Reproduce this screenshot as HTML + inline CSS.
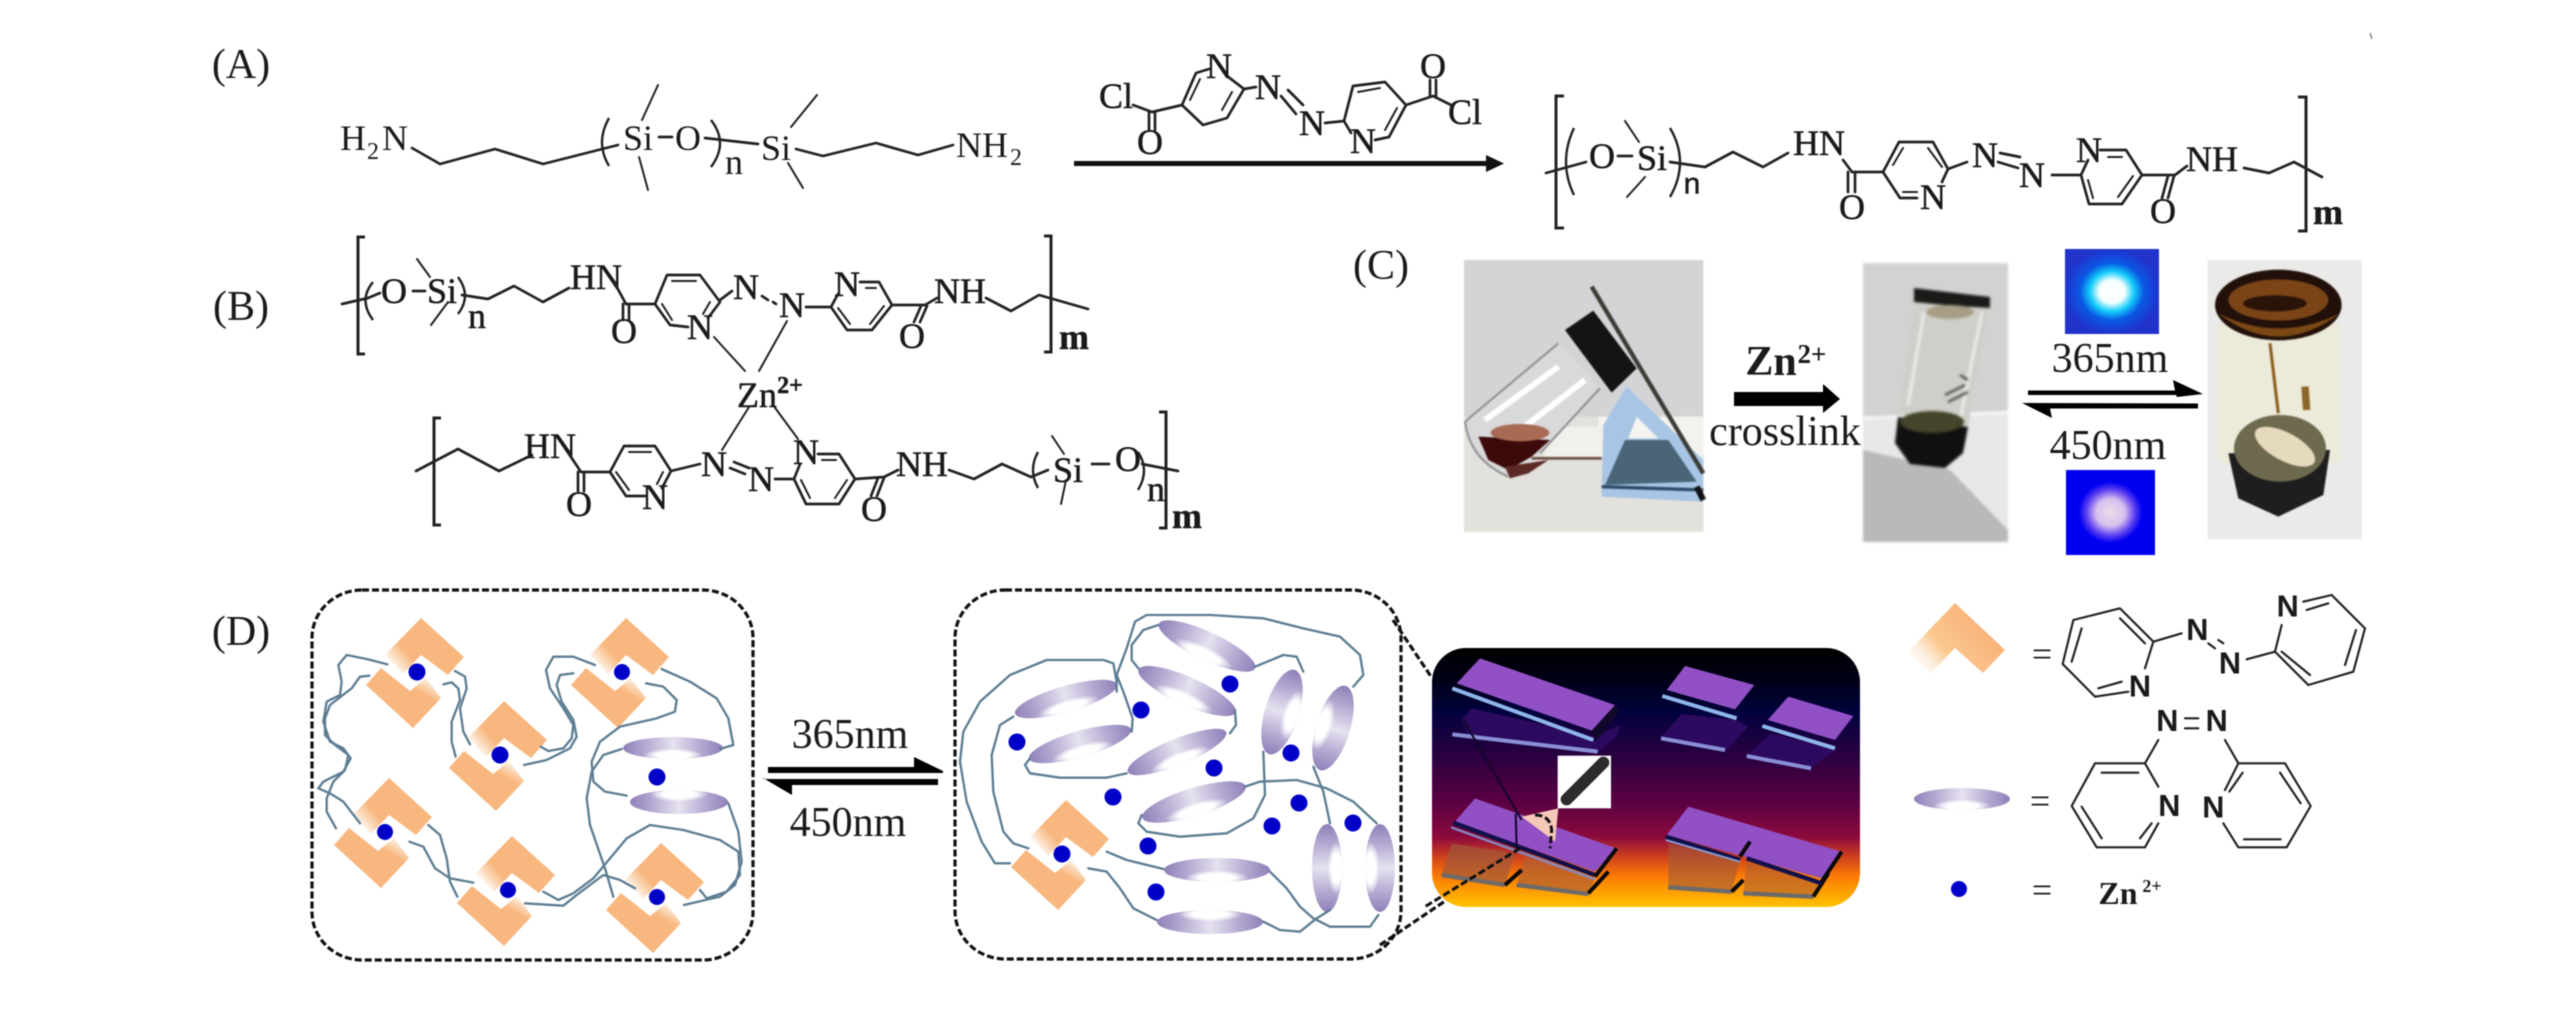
<!DOCTYPE html>
<html lang="en">
<head>
<meta charset="utf-8">
<title>Azopyridine polymer diagram</title>
<style>
html,body{margin:0;padding:0;background:#fff;width:2567px;height:1024px;overflow:hidden}
svg{display:block;filter:blur(.5px)}
text{font-family:"Liberation Serif",serif;fill:#1a1a1a;dominant-baseline:central;text-anchor:middle}
.l{font-size:42px}
.c{font-size:36px}
.s{font-size:24px}
.b{font-weight:bold}
.h text{stroke:#1a1a1a;stroke-width:.5px}
.ln{fill:none;stroke:#222;stroke-width:2.7;stroke-linejoin:round;stroke-linecap:round}
.th{fill:none;stroke:#222;stroke-width:2;stroke-linecap:round}
.br{fill:none;stroke:#222;stroke-width:3}
.pm{fill:none;stroke:#222;stroke-width:2.4}
.w polyline{fill:none;stroke:#5d7d92;stroke-width:7;stroke-linejoin:round;stroke-linecap:round}
.d{fill:#0000c8}
.box{fill:none;stroke:#111;stroke-width:3.2;stroke-dasharray:7 3}
.pn .top{fill:#9150c4}
.pn .low{fill:#2c0a60}
.pn .lt{stroke:#8fb6ea;stroke-width:12;fill:none}
.pn .lt2{stroke:#8a90d6;stroke-width:12;fill:none}
.pn .dk{stroke:#10104a;stroke-width:13;fill:none}
.pn .gr{stroke:#6e6a6a;stroke-width:13;fill:none}
.pn .bk{stroke:#0a0a0a;stroke-width:12;fill:none}
.lg .k{fill:none;stroke:#222;stroke-width:6.5;stroke-linejoin:round;stroke-linecap:round}
.lg .N{font-family:"Liberation Sans",sans-serif;font-weight:bold;font-size:92px}
.pht{filter:blur(1.2px)}
</style>
</head>
<body>
<svg xmlns="http://www.w3.org/2000/svg" width="2567" height="1024" viewBox="0 0 2567 1024">
<defs>
<linearGradient id="gt" gradientUnits="userSpaceOnUse" x1="-30" y1="-10" x2="-14" y2="-24">
<stop offset="0" stop-color="#fff"/><stop offset="0.6" stop-color="#fad3ae"/><stop offset="1" stop-color="#f8b77f"/>
</linearGradient>
<linearGradient id="gb" gradientUnits="userSpaceOnUse" x1="15" y1="6" x2="6" y2="22">
<stop offset="0" stop-color="#fff"/><stop offset="0.6" stop-color="#fad3ae"/><stop offset="1" stop-color="#f8b77f"/>
</linearGradient>
<linearGradient id="eh"><stop offset="0" stop-color="#8f7fb8"/><stop offset="0.25" stop-color="#b9aed4"/><stop offset="0.5" stop-color="#e6e2f0"/><stop offset="0.75" stop-color="#b9aed4"/><stop offset="1" stop-color="#8f7fb8"/></linearGradient>
<radialGradient id="er" cx="0.5" cy="0.82" r="0.3"><stop offset="0" stop-color="#fff"/><stop offset="0.55" stop-color="#fff"/><stop offset="1" stop-color="#fff" stop-opacity="0"/></radialGradient>
<g id="el"><ellipse rx="1" ry="1" fill="url(#eh)"/><ellipse rx="1" ry="1" fill="url(#er)"/></g>
<linearGradient id="lg" x1="1" y1="0.2" x2="0" y2="0.85"><stop offset="0" stop-color="#f8a870"/><stop offset="0.65" stop-color="#fbc88e"/><stop offset="0.82" stop-color="#fdeedd"/><stop offset="1" stop-color="#fff"/></linearGradient>
<radialGradient id="s1"><stop offset="0" stop-color="#fff"/><stop offset="0.27" stop-color="#f6ffff"/><stop offset="0.47" stop-color="#14ccfa"/><stop offset="0.68" stop-color="#0a58e4"/><stop offset="1" stop-color="#2034cc"/></radialGradient>
<radialGradient id="s2"><stop offset="0" stop-color="#ecdcea"/><stop offset="0.32" stop-color="#d6c0ee"/><stop offset="0.55" stop-color="#5a3cf0"/><stop offset="0.72" stop-color="#0000f0"/><stop offset="1" stop-color="#0000ee"/></radialGradient>
<linearGradient id="sky" x1="0" y1="0" x2="0" y2="1">
<stop offset="0" stop-color="#000"/><stop offset="0.12" stop-color="#000016"/><stop offset="0.25" stop-color="#02023e"/><stop offset="0.42" stop-color="#2a0040"/><stop offset="0.6" stop-color="#5c0042"/><stop offset="0.73" stop-color="#8c0a3c"/><stop offset="0.8" stop-color="#c83c20"/><stop offset="0.88" stop-color="#fb7a05"/><stop offset="1" stop-color="#ffc300"/>
</linearGradient>
<g id="dm">
<polygon fill="url(#gt)" points="-32,-17 4,-54 47,-15 31,3 4,-17 -14,2"/>
<polygon fill="url(#gb)" points="-51,13 -36,-4 -7,19 9,6 24,26 -4,56"/>
</g>
</defs>

<!-- Labels -->
<text class="l" x="241" y="65">(A)</text>
<text class="l" x="241" y="307">(B)</text>
<text class="l" x="1381" y="266">(C)</text>
<text class="l" x="241" y="632">(D)</text>
<path d="M2370 33l2 6" stroke="#888" stroke-width="1.5"/>

<!-- A: diamine -->
<text class="c" x="353" y="138">H</text><text class="s" x="373" y="152">2</text><text class="c" x="395" y="138">N</text>
<polyline class="ln" points="412,148 440,164 495,149 543,164 618,145"/>
<path class="pm" d="M609 118Q595 143 609 166"/>
<text class="c" x="638" y="138">Si</text>
<path class="ln" d="M659 137H672"/>
<text class="c" x="688" y="138">O</text>
<path class="pm" d="M711 120Q729 143 711 167"/>
<text class="c" x="734" y="162">n</text>
<polyline class="ln" points="705,138 758,144"/>
<text class="c" x="776" y="148">Si</text>
<path class="th" d="M658 85L642 120M639 157L648 190M817 95L791 127M788 163L803 188"/>
<polyline class="ln" points="796,149 823,156 876,143 918,155 953,145"/>
<text class="c" x="982" y="145">NH</text><text class="s" x="1016" y="158">2</text>

<!-- A: reagent -->
<g class="h">
<text class="c" x="1116" y="96">Cl</text>
<path class="ln" d="M1133 105L1152 112M1149 112V130M1155 112V130M1152 112L1182 105"/>
<text class="c" x="1150" y="142">O</text>
<polyline class="ln" points="1182,105 1196,73 1209,69"/>
<polyline class="ln" points="1227,76 1244,89 1227,118 1203,125 1182,105"/>
<path class="th" d="M1190 100L1200 79M1232 92L1222 110"/>
<text class="c" x="1219" y="66">N</text>
<path class="ln" d="M1244 89L1256 87"/>
<text class="c" x="1268" y="87">N</text>
<path class="ln" d="M1281 96L1296 114M1288 90L1303 105"/>
<text class="c" x="1312" y="123">N</text>
<path class="ln" d="M1325 123L1344 121"/>
<polyline class="ln" points="1351,133 1344,121 1353,86 1385,82 1406,105 1389,137 1375,140"/>
<path class="th" d="M1358 92L1380 88M1397 108L1385 130"/>
<text class="c" x="1363" y="141">N</text>
<path class="ln" d="M1406 105L1433 96M1430 96V80M1436 96V80M1433 96L1451 105"/>
<text class="c" x="1433" y="66">O</text>
<text class="c" x="1465" y="112">Cl</text>
</g>

<!-- Long arrow -->
<path d="M1074 161H1486V155L1504 163.500L1486 172V166H1074Z" fill="#111"/>

<!-- A: product -->
<g class="h">
<path class="br" d="M1564 96H1556V228H1564M2298 97H2306V231H2298"/>
<path class="pm" d="M1574 128Q1558 162 1574 195M1670 128Q1690 162 1670 197"/>
<path class="ln" d="M1546 173L1586 162M1618 156H1632"/>
<text class="c" x="1602" y="156">O</text>
<text class="c" x="1652" y="158">Si</text>
<path class="th" d="M1625 121L1639 142M1627 197L1645 177"/>
<text class="c" x="1692" y="184" style="font-family:'Liberation Sans',sans-serif;font-size:30px">n</text>
<polyline class="ln" points="1670,162 1705,167 1733,152 1763,167 1788,153"/>
<text class="c" x="1819" y="143">HN</text>
<path class="ln" d="M1843 160L1852 172M1848 172V192M1855 172V192M1852 172H1883"/>
<text class="c" x="1852" y="207">O</text>
<polyline class="ln" points="1917,198 1900,198 1883,172 1899,142 1933,142 1948,169 1942,182"/>
<path class="th" d="M1893 165L1903 148M1928 148L1942 167M1903 192H1917"/>
<text class="c" x="1933" y="197">N</text>
<path class="ln" d="M1948 169L1967 162M2000 153L2020 157M1998 162L2018 168M2052 175H2081"/>
<text class="c" x="1985" y="155">N</text>
<text class="c" x="2032" y="175">N</text>
<polyline class="ln" points="2100,150 2126,150 2142,175 2122,204 2089,204 2081,175 2088,160"/>
<path class="th" d="M2108 157H2122M2133 176L2118 197M2093 198L2088 180"/>
<text class="c" x="2089" y="150">N</text>
<path class="ln" d="M2142 175H2175M2168 176L2162 198M2174 176L2168 198M2175 175L2187 166"/>
<text class="c" x="2163" y="211">O</text>
<text class="c" x="2212" y="159">NH</text>
<polyline class="ln" points="2244,168 2269,173 2294,162 2322,177"/>
<text class="c b" x="2328" y="212">m</text>
</g>

<!-- B: top -->
<g class="h">
<path class="br" d="M365 237H358V354H365M1044 236H1051V352H1044"/>
<path class="pm" d="M373 282Q358 300 373 320M458 277Q472 296 458 314"/>
<path class="ln" d="M342 304L368 298L380 293M413 291H425"/>
<text class="c" x="394" y="291">O</text>
<text class="c" x="442" y="291">Si</text>
<path class="th" d="M417 259L430 277M431 325L448 302"/>
<text class="c" x="477" y="316">n</text>
<polyline class="ln" points="462,295 488,299 514,286 543,302 569,288"/>
<text class="c" x="596" y="277">HN</text>
<path class="ln" d="M614 282L626 304M623 304V320M629 304V320M626 304H655"/>
<text class="c" x="624" y="331">O</text>
<polyline class="ln" points="688,327 670,325 655,304 667,275 700,275 720,302 708,318"/>
<path class="th" d="M672 281H696M710 302L703 314M662 304L672 320"/>
<text class="c" x="700" y="327">N</text>
<path class="ln" d="M720 300L732 291M762 296L768 300M773 302L776 304M806 307H831"/>
<text class="c" x="746" y="287">N</text>
<text class="c" x="792" y="305">N</text>
<polyline class="ln" points="860,282 879,282 892,305 872,330 847,330 831,307 838,294"/>
<path class="th" d="M866 288H876M884 306L870 324M850 324L838 308"/>
<text class="c" x="847" y="284">N</text>
<path class="ln" d="M892 305H925M921 306L914 322M927 306L920 322M925 305L937 298"/>
<text class="c" x="912" y="336">O</text>
<text class="c" x="960" y="291">NH</text>
<polyline class="ln" points="986,298 1011,311 1039,295 1088,309"/>
<text class="c b" x="1074" y="337">m</text>
<path class="th" d="M714 337L745 371M787 321L759 371M749 407L722 450M773 405L798 439"/>
<text class="c" x="757" y="395">Zn</text><text class="s b" x="790" y="386">2+</text>

<!-- B: bottom -->
<path class="br" d="M441 418H434V525H441M1159 412H1166V528H1159"/>
<path class="pm" d="M1038 452Q1028 470 1038 488M1138 452Q1150 470 1138 490"/>
<polyline class="ln" points="416,471 458,449 499,471 532,455"/>
<text class="c" x="550" y="446">HN</text>
<path class="ln" d="M569 454L581 472M578 472V491M584 472V491M581 472H610"/>
<text class="c" x="579" y="504">O</text>
<polyline class="ln" points="645,496 626,496 610,472 624,446 655,446 671,471 662,488"/>
<path class="th" d="M629 452H651M663 472L657 484M616 472L629 490"/>
<text class="c" x="655" y="497">N</text>
<path class="ln" d="M671 471L700 464M730 468L745 474M734 462L749 468M775 479H794"/>
<text class="c" x="714" y="464">N</text>
<text class="c" x="761" y="479">N</text>
<polyline class="ln" points="818,454 839,454 855,479 839,504 806,504 794,479 800,464"/>
<path class="th" d="M822 460H836M847 480L835 498M810 498L801 480"/>
<text class="c" x="806" y="452">N</text>
<path class="ln" d="M855 479L884 477M878 478L871 496M884 478L877 496M884 477L898 470"/>
<text class="c" x="874" y="509">O</text>
<text class="c" x="922" y="464">NH</text>
<polyline class="ln" points="949,470 974,479 1002,464 1031,477 1048,470"/>
<text class="c" x="1068" y="470">Si</text>
<path class="th" d="M1052 436L1064 454M1066 480L1061 504"/>
<path class="ln" d="M1092 464H1109"/>
<text class="c" x="1128" y="459">O</text>
<path class="ln" d="M1142 464L1178 471"/>
<text class="c" x="1156" y="489">n</text>
<text class="c b" x="1187" y="516">m</text>
</g>

<!-- C: photo 1 -->
<g class="pht" transform="translate(1455 240) scale(.33333)">
<rect x="27" y="60" width="718" height="815" fill="#d4d4d7"/>
<rect x="27" y="530" width="718" height="345" fill="#e2e1dc"/>
<rect x="430" y="530" width="315" height="120" fill="#f3f2ec"/>
<rect x="270" y="560" width="180" height="90" fill="#f1f0ea"/>
<polygon points="310,310 435,445 255,640 160,710 60,650 30,545" fill="#d9d9db"/>
<path d="M310 310L30 545M435 445L255 640M30 545Q45 660 160 710" stroke="#8e8e90" stroke-width="6" fill="none"/>
<path d="M90 540L310 380M170 590L390 420" stroke="#fff" stroke-width="18" fill="none"/>
<polygon points="70,590 285,600 230,650 160,690 100,660" fill="#3d0a0a"/>
<ellipse cx="195" cy="578" rx="88" ry="26" fill="#a86a52"/>
<path d="M230 655L440 655" stroke="#6a4a40" stroke-width="8"/>
<polygon points="150,680 280,660 220,700 165,715" fill="#5c2a24"/>
<polygon points="330,270 415,212 545,385 470,458" fill="#141416"/>
<polygon points="515,440 445,555 440,770 745,785 745,660" fill="#a8c5e6"/>
<polygon points="545,530 520,595 610,595" fill="#f5f4ee"/>
<polygon points="510,600 640,600 725,725 450,735" fill="#4b6578"/>
<path d="M440 740L745 750" stroke="#2d4a66" stroke-width="10"/>
<path d="M410 140L745 700" stroke="#3c3c36" stroke-width="13"/>
<path d="M725 740L745 780" stroke="#111" stroke-width="18"/>
</g>

<!-- C: photo 2 -->
<g class="pht">
<rect x="1863" y="263" width="145" height="279" fill="#d2d2d2"/>
<polygon points="1863,417 2008,412 2008,542 1863,542" fill="#e8e8e8"/>
<polygon points="1863,450 1950,470 2008,530 2008,542 1863,542" fill="#b9b9b9"/>
<path d="M1863 418L2008 412" stroke="#fff" stroke-width="2"/>
<polygon points="1915,298 1990,305 1968,428 1898,413" fill="#cfcfca"/>
<path d="M1924 312L1908 405M1982 312L1960 420" stroke="#ececec" stroke-width="3"/>
<polygon points="1914,288 1990,297 1990,308 1955,306 1914,302" fill="#1a1a18"/>
<ellipse cx="1950" cy="312" rx="24" ry="7" fill="#a89e86"/>
<polygon points="1898,417 1968,427 1963,453 1945,468 1910,464 1895,443" fill="#101010"/>
<ellipse cx="1932" cy="422" rx="32" ry="11" fill="#45452c"/>
<path d="M1945 395L1965 385M1948 402L1968 392M1960 375L1968 380" stroke="#333" stroke-width="2"/>
</g>

<!-- C: photo 3 -->
<g class="pht" transform="translate(1935 240) scale(.33333)">
<rect x="818" y="60" width="462" height="838" fill="#eaeae8"/>
<rect x="850" y="250" width="365" height="420" rx="20" fill="#ecead8"/>
<ellipse cx="1030" cy="195" rx="190" ry="106" fill="#22100a"/>
<path d="M850 220Q1030 360 1215 220Q1030 310 850 220" fill="#7a4814"/>
<ellipse cx="1030" cy="180" rx="150" ry="62" fill="#7a4416"/>
<ellipse cx="1020" cy="190" rx="95" ry="24" fill="#2a1408"/>
<path d="M1005 310L1030 520" stroke="#8a5a1c" stroke-width="9"/>
<path d="M1110 440L1115 510" stroke="#8a6628" stroke-width="22"/>
<polygon points="880,640 1185,630 1165,765 1030,830 910,775" fill="#1e1e1e"/>
<ellipse cx="1035" cy="625" rx="138" ry="100" fill="#6e6a50"/>
<ellipse cx="1050" cy="620" rx="100" ry="42" fill="#e6dabd" transform="rotate(28 1050 620)"/>
</g>
<rect x="2065" y="249" width="94" height="85" fill="url(#s1)"/>
<rect x="2066" y="470" width="89" height="85" fill="url(#s2)"/>

<!-- C: labels/arrows -->
<text class="l b" x="1771" y="362">Zn</text><text class="b" x="1812" y="354" style="font-size:27px">2+</text>
<path d="M1734 392H1823V384L1840 399L1823 413V406H1734Z" fill="#000"/>
<text class="l" x="1785" y="432">crosslink</text>
<text class="l" x="2110" y="359">365nm</text>
<text class="l" x="2108" y="446">450nm</text>
<path d="M2028 390.500H2175L2173 380L2203 394L2177 397L2176 395H2028Z" fill="#000"/>
<path d="M2198 403.500V408.500H2050L2052 418L2022 403Z" fill="#000"/>

<!-- D: box 1 -->
<rect class="box" x="312" y="590" width="441" height="370" rx="50" ry="48"/>
<use href="#dm" x="417" y="672"/><use href="#dm" x="500" y="755"/><use href="#dm" x="622" y="672"/>
<use href="#dm" x="385" y="832"/><use href="#dm" x="508" y="890"/><use href="#dm" x="657" y="897"/>
<use href="#el" transform="translate(673 748) scale(50 11)"/>
<use href="#el" transform="translate(679 802) rotate(180) scale(49 12)"/>
<g class="w" transform="translate(310 585) scale(.33333)">
<polyline points="232,238 170,222 110,210 85,240 95,290 90,330 50,350 40,410 60,470 100,490 122,520 100,560 40,590 25,610 60,625 100,650 150,715"/>
<polyline points="178,272 150,275 125,310 60,360 45,400 45,450 75,480 115,510 105,555 70,590 50,640 50,680 78,730"/>
<polyline points="435,258 465,275 470,310 450,370 460,440 480,478"/>
<polyline points="400,298 425,292 445,310 450,345 425,410 425,470 437,515"/>
<polyline points="692,485 715,498 760,490 785,460 790,420 760,370 720,310 708,255 730,215 790,215 855,240"/>
<polyline points="642,540 710,525 780,490 800,455 790,405 755,350 740,300 750,270 790,265"/>
<polyline points="1055,252 1140,290 1220,340 1255,400 1270,480 1230,492"/>
<polyline points="1008,295 1060,305 1100,345 1095,380 1040,400 930,425 870,470 845,530 850,590 885,620 950,632"/>
<polyline points="935,492 880,510 845,560 830,640 840,720 885,850 910,935"/>
<polyline points="1255,655 1285,740 1295,830 1275,900 1230,935 1122,960"/>
<polyline points="700,920 745,945 790,925 850,880 950,760 1020,720 1120,735 1230,765 1285,800 1290,870 1250,920 1190,940 1170,915"/>
<polyline points="645,955 760,962 800,930 880,870 930,885 975,910"/>
<polyline points="355,720 390,750 410,820 420,890 442,935"/>
<polyline points="298,770 340,785 375,850 420,880 490,893"/>
</g>
<circle class="d" cx="417" cy="672" r="8.500"/><circle class="d" cx="500" cy="755" r="8.500"/><circle class="d" cx="622" cy="672" r="8"/>
<circle class="d" cx="385" cy="832" r="8"/><circle class="d" cx="508" cy="890" r="8"/><circle class="d" cx="657" cy="897" r="8"/><circle class="d" cx="657" cy="777" r="8.500"/>

<!-- D: equilibrium -->
<text class="l" x="850" y="735">365nm</text>
<text class="l" x="848" y="823">450nm</text>
<path d="M768 767H914V757L943 771V773H768Z" fill="#000"/>
<path d="M763 778L792 795V785H938V779H792H763Z" fill="#000"/>

<!-- D: box 2 -->
<rect class="box" x="955" y="590" width="446" height="369" rx="50" ry="48"/>
<path class="box" d="M1393 620L1432 678M1380 945L1525 847"/>
<use href="#el" transform="translate(1207 646) rotate(25) scale(53 14)"/>
<use href="#el" transform="translate(1187 691) rotate(24) scale(53 14)"/>
<use href="#el" transform="translate(1066 699) rotate(-16) scale(53 13)"/>
<use href="#el" transform="translate(1080 744) rotate(-16) scale(53 13)"/>
<use href="#el" transform="translate(1177 752) rotate(-22) scale(53 13)"/>
<use href="#el" transform="translate(1194 802) rotate(-17) scale(54 14)"/>
<use href="#el" transform="translate(1282 712) rotate(-73) scale(44 17)"/>
<use href="#el" transform="translate(1333 728) rotate(107) scale(44 17)"/>
<use href="#el" transform="translate(1217 870) scale(53 12)"/>
<use href="#el" transform="translate(1210 922) rotate(180) scale(53 12)"/>
<use href="#el" transform="translate(1327 868) rotate(-90) scale(44 15)"/>
<use href="#el" transform="translate(1380 868) rotate(90) scale(44 15)"/>
<use href="#dm" x="1062" y="854"/>
<g class="w" transform="translate(950 585) scale(.33333)">
<polyline points="500,320 500,270 530,190 555,110 590,90 780,90 940,100 1060,130 1170,155 1230,210 1240,270 1210,305"/>
<polyline points="625,120 580,135 545,180 545,225 565,250"/>
<polyline points="915,245 1000,210 1040,215 1060,260"/>
<polyline points="500,270 520,320 548,400 545,440"/>
<polyline points="855,375 858,420 840,445"/>
<polyline points="500,290 490,235 460,225 290,225 180,270 90,350 40,440 30,530 50,650 95,770 135,835 180,835"/>
<polyline points="190,395 150,420 125,510 130,620 160,740 190,775 235,790"/>
<polyline points="240,520 225,540 240,565 330,578 470,578 530,565"/>
<polyline points="940,500 945,630 910,700 830,745 690,755 590,740 565,715 575,690"/>
<polyline points="885,605 930,590 1040,585 1130,610 1210,650 1280,715"/>
<polyline points="1090,545 1120,620 1140,715"/>
<polyline points="470,800 530,825 640,852"/>
<polyline points="415,850 470,860 510,910 550,970 620,1005"/>
<polyline points="960,860 1010,910 1050,965 1090,1000 1140,1025 1260,1025 1285,990"/>
<polyline points="940,1010 990,1035 1050,1040 1100,1000 1140,975"/>
</g>
<circle class="d" cx="1230" cy="684" r="8.500"/><circle class="d" cx="1141" cy="710" r="8.500"/><circle class="d" cx="1017" cy="742" r="8.500"/>
<circle class="d" cx="1291" cy="753" r="8.500"/><circle class="d" cx="1214" cy="768" r="8.500"/><circle class="d" cx="1113" cy="797" r="8.500"/>
<circle class="d" cx="1299" cy="803" r="8.500"/><circle class="d" cx="1272" cy="826" r="8.500"/><circle class="d" cx="1353" cy="823" r="8.500"/>
<circle class="d" cx="1148" cy="846" r="8.500"/><circle class="d" cx="1156" cy="892" r="8.500"/><circle class="d" cx="1062" cy="854" r="8.500"/>

<!-- Dark panel -->
<rect x="1432" y="648" width="428" height="259" rx="34" ry="34" fill="url(#sky)"/>
<g class="pn" transform="translate(1425 640) scale(.33333)">
<polygon class="low" points="140,205 510,290 585,255 575,290 520,335 130,285 110,240"/>
<path class="lt2" d="M82 283L518 335"/>
<polygon points="570,195 582,215 512,305 500,272" fill="#12082a"/>
<polygon class="top" points="165,55 570,195 500,272 95,130"/>
<path class="lt" d="M82 145L505 300"/>
<polygon class="low" points="770,222 930,240 970,260 900,335 705,295"/>
<path class="lt2" d="M708 295L900 330"/>
<polygon class="top" points="780,78 988,135 930,208 725,150"/>
<path class="lt" d="M712 168L935 235"/>
<polygon class="low" points="1040,280 1230,330 1210,345 1155,385 965,345"/>
<path class="lt2" d="M965 348L1158 385"/>
<polygon class="top" points="1090,170 1285,228 1230,300 1028,240"/>
<path class="lt" d="M1012 258L1230 325"/>

<polygon points="80,610 270,640 240,735 50,705" fill="#a0583a" opacity=".7"/>
<polygon points="300,650 510,715 490,762 275,735" fill="#b06030" opacity=".7"/>
<path class="gr" d="M50 705L240 735M275 735L490 762"/>
<path class="bk" d="M240 735L290 690M490 760L550 695"/>
<polygon class="top" points="150,475 575,625 510,695 90,545"/>
<path class="dk" d="M85 548L510 705"/>
<path d="M78 562L510 718" stroke="#7f8cc6" stroke-width="7" fill="none"/>
<path class="bk" d="M575 625L510 710"/>

<polygon points="730,610 945,660 920,755 730,742" fill="#a05a3a" opacity=".6"/>
<polygon points="965,665 1190,730 1165,770 955,760" fill="#b06030" opacity=".6"/>
<path class="gr" d="M730 742L920 755M955 760L1165 770"/>
<path class="bk" d="M920 755L955 720M1165 770L1210 700"/>
<polygon class="top" points="790,500 1250,635 1190,715 725,585"/>
<path class="dk" d="M722 590L945 660M965 655L1190 730"/>
<path d="M722 600L945 665" stroke="#8a98cc" stroke-width="6" fill="none"/>
<path class="bk" d="M975 605L945 650M1250 635L1190 725"/>

<polygon points="400,505 290,530 390,605" fill="#f6c8b8"/>
<path d="M330 525Q375 525 380 570L375 625" fill="none" stroke="#111" stroke-width="9" stroke-dasharray="22 9"/>
<path d="M115 240L290 540M272 520L275 625" stroke="#10062a" stroke-width="6" fill="none"/>
<path d="M285 625L0 800" stroke="#111" stroke-width="9" stroke-dasharray="22 9" fill="none"/>
<rect x="398" y="347" width="160" height="158" fill="#fff"/>
<path d="M535 368L425 478" stroke="#2c2c2c" stroke-width="36" stroke-linecap="round"/>
</g>

<!-- Legend -->
<polygon points="1955,603 2005,650 1983,673 1955,648 1931,673 1908,652" fill="url(#lg)"/>
<text class="c" x="2042" y="654">=</text>
<text class="c" x="2040" y="801">=</text>
<text class="c" x="2042" y="890">=</text>
<use href="#el" transform="translate(1962 799) scale(48 11)"/>
<circle class="d" cx="1959" cy="889" r="8"/>
<text class="b" x="2118" y="893" style="font-size:32px">Zn</text>
<text class="b" x="2152" y="886" style="font-size:18px">2+</text>
<g class="lg" transform="translate(1890 590) scale(.33333)">
<polyline class="k" points="715,305 615,320 518,222 550,90 690,55 790,155 765,235"/>
<path class="k" d="M690 85L765 160M575 115L545 215M625 295L695 275M790 155L875 130"/>
<text class="N" x="922" y="120">N</text>
<path class="k" d="M955 160L975 175M985 150L1000 160M1070 208L1155 185"/>
<text class="N" x="1020" y="220">N</text>
<polyline class="k" points="1175,105 1155,185 1255,285 1390,245 1425,115 1325,15 1240,35"/>
<path class="k" d="M1175 185L1260 255M1365 225L1398 120M1250 60L1315 40"/>
<text class="N" x="1193" y="50">N</text>
<text class="N" x="750" y="290">N</text>
<text class="N" x="832" y="393">N</text>
<text class="N" x="980" y="393">N</text>
<path class="k" d="M885 385H925M885 415H925M805 450L765 520M1005 450L1045 520"/>
<polyline class="k" points="805,590 765,520 615,520 545,648 620,772 765,772 805,700"/>
<path class="k" d="M635 548H745M575 650L635 745M750 745L785 700"/>
<text class="N" x="838" y="648">N</text>
<polyline class="k" points="1005,600 1045,520 1185,520 1262,648 1190,772 1045,772 1000,700"/>
<path class="k" d="M1018 605L1058 548M1170 548L1232 640M1062 748H1172"/>
<text class="N" x="970" y="652">N</text>
</g>
</svg>
</body>
</html>
